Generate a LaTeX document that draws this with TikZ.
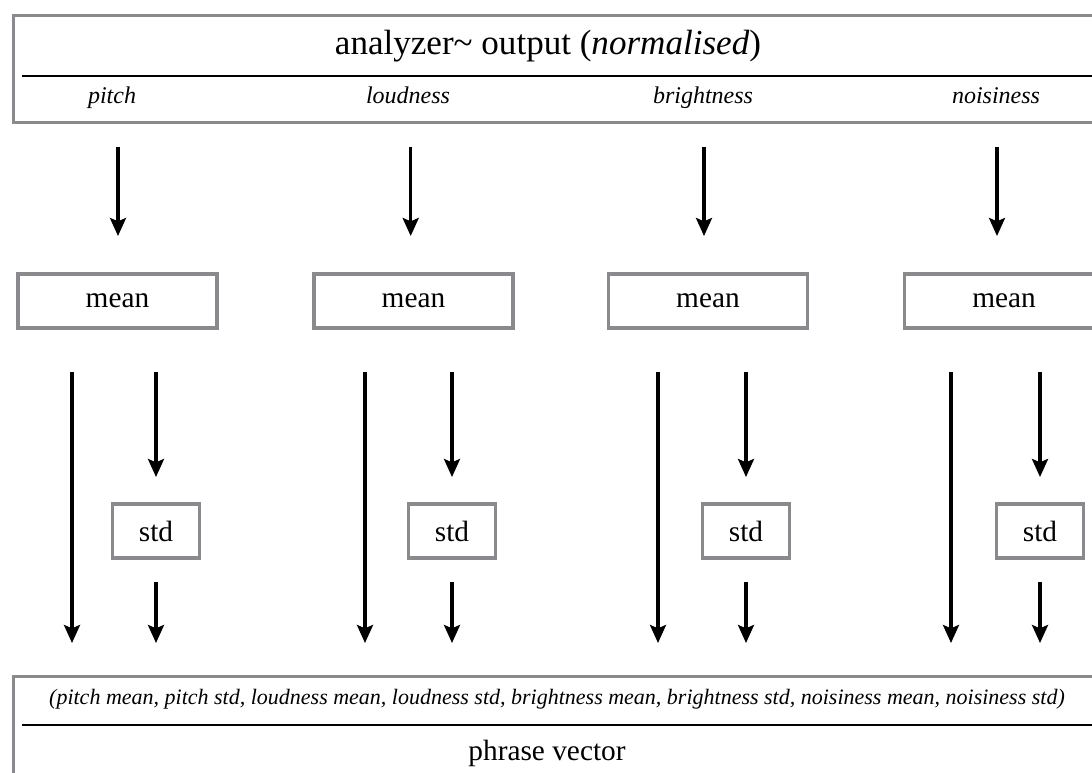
\documentclass[tikz,border=0pt]{standalone}
\usepackage{fontspec}
\setmainfont{Liberation Serif}
\usetikzlibrary{arrows.meta}

\definecolor{frame}{RGB}{138,138,142}

\begin{document}
\begin{tikzpicture}[x=0.75pt,y=-0.75pt,
  framebox/.style={draw=frame,line width=2.6pt,fill=white,inner sep=0pt},
  meanbox/.style={framebox,minimum width=149pt,minimum height=40.5pt,font=\fontsize{22}{26}\selectfont},
  stdbox/.style={framebox,minimum width=65pt,minimum height=40.5pt,font=\fontsize{22}{26}\selectfont},
  divider/.style={line width=1.7pt},
  arr/.style={line width=2.5pt,-{Stealth[length=13.5pt,width=12pt,inset=2.5pt]}},
  lab/.style={anchor=base,font=\fontsize{18}{22}\selectfont\itshape},
]
\useasboundingbox (0,0) rectangle (1092,772);
\begin{scope}
\clip (0,0) rectangle (1092,772);

% input frame
\node[framebox,minimum width=823.5pt,minimum height=80.25pt,anchor=north west] (inbox) at (12,13.5) {};
\draw[divider] (22,76) -- (1120,76);
\node[anchor=base,font=\fontsize{26.3}{30}\selectfont] (title) at (548,54) {analyzer\char"007E{} output (\textit{normalised})};
\node[lab] (lp) at (112,103) {pitch};
\node[lab] (ll) at (408,103) {loudness};
\node[lab] (lb) at (703,103) {brightness};
\node[lab] (ln) at (996,103) {noisiness};

% output frame
\node[framebox,minimum width=823.5pt,minimum height=90pt,anchor=north west] (outbox) at (12,675) {};
\draw[divider] (22,725) -- (1120,725);
\node[anchor=base,font=\fontsize{16.5}{20}\selectfont\itshape] (fields) at (557,704) {(pitch mean, pitch std, loudness mean, loudness std, brightness mean, brightness std, noisiness mean, noisiness std)};
\node[anchor=base,font=\fontsize{22}{26}\selectfont] (pv) at (547,760) {phrase vector};

% mean stage
\node[meanbox] (m1) at (117.5,301) {mean};
\node[meanbox] (m2) at (413.5,301) {mean};
\node[meanbox] (m3) at (708,301) {mean};
\node[meanbox] (m4) at (1004,301) {mean};

% std stage
\node[stdbox] (s1) at (156,531) {std};
\node[stdbox] (s2) at (452,531) {std};
\node[stdbox] (s3) at (746,531) {std};
\node[stdbox] (s4) at (1040,531) {std};

% arrow end points
\foreach \i/\xa/\xl/\xr in {1/118/72/156, 2/410.7/365/452, 3/704/658/746, 4/997/951/1040}{
  \coordinate (a\i t) at (\xa,147);
  \coordinate (a\i b) at (\xa,236);
  \coordinate (l\i t) at (\xl,372);
  \coordinate (l\i b) at (\xl,643);
  \coordinate (r\i t) at (\xr,372);
  \coordinate (r\i b) at (\xr,477);
  \coordinate (q\i t) at (\xr,582);
  \coordinate (q\i b) at (\xr,643);
}
\foreach \i in {1,2,3,4}{
  \draw[arr] (a\i t) -- (a\i b);
  \draw[arr] (l\i t) -- (l\i b);
  \draw[arr] (r\i t) -- (r\i b);
  \draw[arr] (q\i t) -- (q\i b);
}
\end{scope}
\end{tikzpicture}
\end{document}
